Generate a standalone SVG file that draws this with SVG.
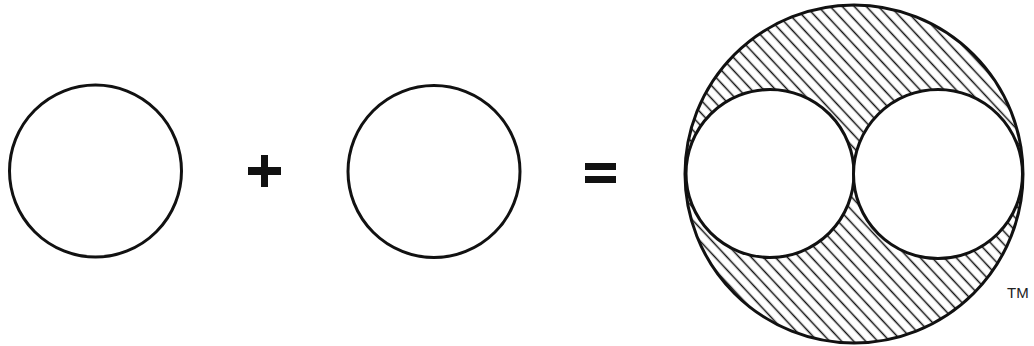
<svg xmlns="http://www.w3.org/2000/svg" width="1034" height="346" viewBox="0 0 1034 346">
  <defs>
    <pattern id="hatch" patternUnits="userSpaceOnUse" width="8.8" height="8.8" patternTransform="rotate(47)">
      <line x1="0" y1="4.4" x2="8.8" y2="4.4" stroke="#111" stroke-width="1.5"/>
    </pattern>
    <style>
      .ring { fill: #fff; stroke: #111; stroke-width: 3; }
      .sym { fill: #111; }
      .tm { font-family: "Liberation Sans", Arial, sans-serif; font-size: 15px; fill: #222; }
    </style>
  </defs>
  <rect width="1034" height="346" fill="#fff"/>
  <g id="circle-a">
    <circle class="ring" cx="95.5" cy="171" r="86"/>
  </g>
  <g id="plus">
    <rect class="sym" x="248" y="167" width="33" height="8"/>
    <rect class="sym" x="261" y="155" width="7" height="32"/>
  </g>
  <g id="circle-b">
    <circle class="ring" cx="434" cy="171.5" r="86"/>
  </g>
  <g id="equals">
    <rect class="sym" x="585" y="163" width="31" height="7"/>
    <rect class="sym" x="585" y="176" width="31" height="7"/>
  </g>
  <g id="combined">
    <circle cx="854" cy="174" r="169" fill="url(#hatch)" stroke="#111" stroke-width="3"/>
    <circle class="ring" cx="770" cy="173.5" r="84"/>
    <circle class="ring" cx="938" cy="174" r="84.5"/>
  </g>
  <g id="trademark">
    <text class="tm" x="1007" y="298">TM</text>
  </g>
</svg>
